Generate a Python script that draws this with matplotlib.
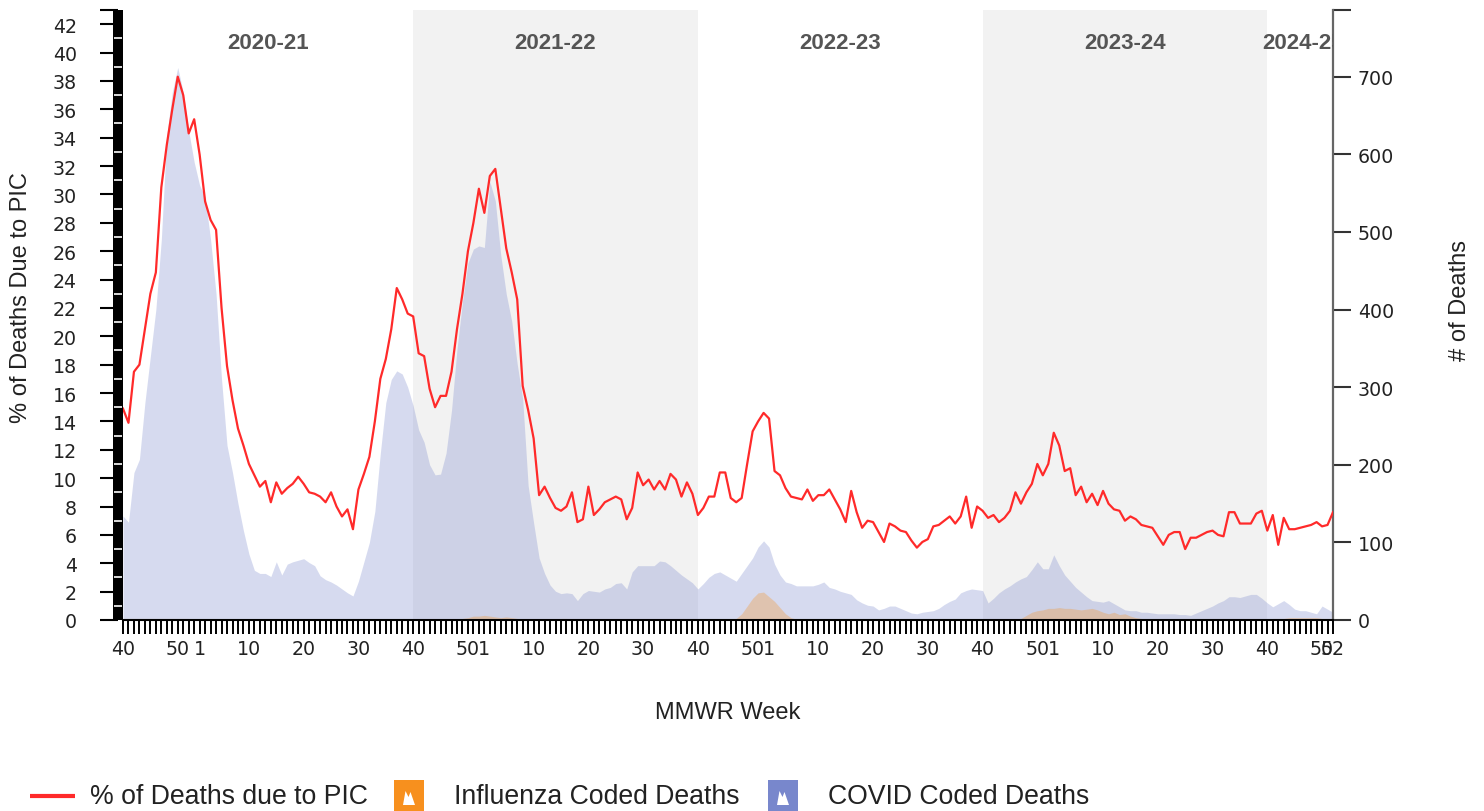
import matplotlib
matplotlib.use("Agg")
import matplotlib.pyplot as plt
from matplotlib.patches import Rectangle, Polygon
from matplotlib.transforms import blended_transform_factory
import numpy as np

# MMWR weeks per season (2020 had 53 weeks)
SEASONS = ["2020-21", "2021-22", "2022-23", "2023-24", "2024-25"]
WEEKS_2020 = list(range(40, 54)) + list(range(1, 40))
WEEKS_2021 = list(range(40, 53)) + list(range(1, 40))
WEEKS_2022 = list(range(40, 53)) + list(range(1, 40))
WEEKS_2023 = list(range(40, 53)) + list(range(1, 40))
WEEKS_2024 = list(range(40, 53))

# % of deaths due to PIC (left axis)
PIC_2020 = [14.9, 13.9, 17.5, 18.0, 20.5, 23.0, 24.5, 30.5, 33.5, 36.0, 38.3, 37.0, 34.3, 35.3,
            32.8, 29.5, 28.2, 27.5, 22.0, 17.9, 15.5, 13.5, 12.3, 11.0, 10.2, 9.4, 9.8, 8.3, 9.7,
            8.9, 9.3, 9.6, 10.1, 9.6, 9.0, 8.9, 8.7, 8.3, 9.0, 8.0, 7.3, 7.8, 6.4, 9.2, 10.3,
            11.5, 14.0, 17.0, 18.4, 20.5, 23.4, 22.6, 21.6]
PIC_2021 = [21.4, 18.8, 18.6, 16.3, 15.0, 15.8, 15.8, 17.5, 20.5, 23.0, 26.0, 28.0, 30.4, 28.7,
            31.3, 31.8, 29.0, 26.2, 24.5, 22.6, 16.5, 14.8, 12.8, 8.8, 9.4, 8.6, 7.9, 7.7, 8.0,
            9.0, 6.9, 7.1, 9.4, 7.4, 7.8, 8.3, 8.5, 8.7, 8.5, 7.1, 7.9, 10.4, 9.5, 9.9, 9.2, 9.8,
            9.2, 10.3, 9.9, 8.7, 9.7, 8.9]
PIC_2022 = [7.4, 7.9, 8.7, 8.7, 10.4, 10.4, 8.6, 8.3, 8.6, 11.0, 13.3, 14.0, 14.6, 14.2, 10.5,
            10.2, 9.3, 8.7, 8.6, 8.5, 9.2, 8.4, 8.8, 8.8, 9.2, 8.5, 7.8, 6.9, 9.1, 7.6, 6.5, 7.0,
            6.9, 6.2, 5.5, 6.8, 6.6, 6.3, 6.2, 5.6, 5.1, 5.5, 5.7, 6.6, 6.7, 7.0, 7.3, 6.8, 7.3,
            8.7, 6.5, 8.0]
PIC_2023 = [7.7, 7.2, 7.4, 6.9, 7.2, 7.7, 9.0, 8.2, 9.0, 9.6, 11.0, 10.2, 11.0, 13.2, 12.3,
            10.5, 10.7, 8.8, 9.4, 8.3, 8.9, 8.1, 9.1, 8.2, 7.8, 7.7, 7.0, 7.3, 7.1, 6.7, 6.6, 6.5,
            5.9, 5.3, 6.0, 6.2, 6.2, 5.0, 5.8, 5.8, 6.0, 6.2, 6.3, 6.0, 5.9, 7.6, 7.6, 6.8, 6.8,
            6.8, 7.5, 7.7]
PIC_2024 = [6.3, 7.4, 5.3, 7.2, 6.4, 6.4, 6.5, 6.6, 6.7, 6.9, 6.6, 6.7, 7.6]

# COVID coded deaths (right axis)
COVID_2020 = [134, 126, 190, 207, 280, 340, 400, 490, 625, 680, 712, 680, 630, 590, 560, 545,
              490, 420, 310, 225, 190, 150, 115, 85, 64, 60, 60, 56, 75, 58, 72, 75, 77, 79, 74,
              70, 57, 52, 49, 45, 40, 35, 31, 50, 75, 100, 140, 215, 280, 310, 321, 317, 300]
COVID_2021 = [276, 245, 229, 200, 187, 188, 215, 270, 349, 410, 460, 478, 482, 480, 565, 540,
              470, 420, 385, 330, 285, 173, 125, 80, 60, 45, 37, 34, 35, 34, 25, 34, 38, 37, 36,
              40, 42, 47, 48, 40, 62, 70, 70, 70, 70, 76, 75, 70, 64, 58, 53, 48]
COVID_2022 = [40, 47, 55, 60, 62, 58, 54, 50, 60, 70, 80, 94, 102, 94, 72, 58, 49, 47, 44, 44,
              44, 44, 46, 49, 42, 40, 37, 35, 33, 26, 22, 19, 18, 13, 15, 18, 18, 15, 12, 9, 8,
              10, 11, 12, 15, 20, 24, 27, 35, 38, 40, 39]
COVID_2023 = [38, 22, 28, 35, 40, 44, 49, 53, 56, 65, 75, 66, 66, 84, 70, 58, 50, 42, 36, 30,
              25, 24, 23, 25, 21, 17, 13, 12, 12, 10, 10, 9, 8, 8, 8, 8, 7, 7, 6, 9, 12, 15, 18,
              22, 25, 30, 30, 29, 31, 33, 33, 28]
COVID_2024 = [22, 17, 21, 25, 20, 14, 12, 12, 10, 8, 18, 14, 10]

# Influenza coded deaths (right axis)
FLU_2020 = [2, 2, 2, 2, 2, 2, 2, 2, 2, 2, 2, 2, 2, 1, 1, 1, 1, 1, 1, 1, 1, 1, 1, 1, 1, 1, 1,
            1, 1, 1, 1, 1, 1, 1, 1, 1, 1, 1, 1, 1, 1, 1, 1, 1, 1, 1, 1, 1, 1, 1, 1, 1, 1]
FLU_2021 = [1, 1, 1, 1, 1, 1, 1, 1, 1, 2, 3, 5, 5, 6, 5, 4, 3, 4, 3, 2, 1, 1, 1, 1, 1, 1, 1,
            2, 2, 1, 1, 1, 1, 1, 1, 1, 1, 1, 1, 1, 1, 1, 1, 1, 1, 1, 1, 1, 1, 1, 1, 1]
FLU_2022 = [1, 1, 1, 1, 1, 1, 1, 2, 8, 18, 28, 35, 36, 30, 24, 16, 8, 3, 1, 1, 1, 1, 1, 1, 1,
            1, 1, 1, 1, 1, 1, 1, 1, 1, 1, 1, 1, 1, 1, 1, 1, 1, 1, 1, 1, 1, 1, 1, 1, 1, 1, 1]
FLU_2023 = [1, 1, 1, 1, 1, 1, 1, 2, 6, 10, 12, 13, 15, 15, 16, 15, 15, 14, 13, 14, 15, 13, 10,
            8, 10, 7, 8, 5, 3, 2, 1, 1, 1, 1, 1, 1, 1, 1, 1, 1, 1, 1, 1, 1, 1, 1, 1, 1, 1, 1,
            1, 1]
FLU_2024 = [1, 2, 2, 2, 3, 3, 3, 3, 3, 3, 2, 2, 2]

LABELLED_WEEKS = [40, 50, 1, 10, 20, 30]

RED = "#ff2a2a"
FLU_COLOR = "#f7901e"
COVID_COLOR = "#7887cc"
BAND_COLOR = "#f2f2f2"
TICK_FONT = "DejaVu Sans"
TEXT_FONT = "Liberation Sans"
TICK_SIZE = 13.7


def main():
    season_weeks = [WEEKS_2020, WEEKS_2021, WEEKS_2022, WEEKS_2023, WEEKS_2024]
    weeks = sum(season_weeks, [])
    pic = np.array(PIC_2020 + PIC_2021 + PIC_2022 + PIC_2023 + PIC_2024)
    covid = np.array(COVID_2020 + COVID_2021 + COVID_2022 + COVID_2023 + COVID_2024)
    flu = np.array(FLU_2020 + FLU_2021 + FLU_2022 + FLU_2023 + FLU_2024)
    x = np.arange(len(weeks))

    starts = np.cumsum([0] + [len(w) for w in season_weeks])

    fig = plt.figure(figsize=(14.84, 8.12), dpi=100)
    ax = fig.add_axes([123 / 1484, 1 - 621 / 812, 1210 / 1484, 610 / 812])
    ax2 = ax.twinx()
    ax.set_zorder(2)
    ax2.set_zorder(1)
    ax.patch.set_visible(False)

    # season bands and death counts on the right-hand axis
    for k in (1, 3):
        ax2.axvspan(starts[k], starts[k + 1], color=BAND_COLOR, lw=0, zorder=0)
    ax2.fill_between(x, 0, covid, color=COVID_COLOR, alpha=0.3, lw=0, zorder=1)
    ax2.fill_between(x, 0, flu, color=FLU_COLOR, alpha=0.3, lw=0, zorder=1)

    ax.plot(x, pic, color=RED, lw=1.6, zorder=3)

    ax.set_xlim(0, len(weeks) - 1)
    ax.set_ylim(0, 43)
    ax2.set_ylim(0, 786)

    # season names along the top
    trans = blended_transform_factory(ax.transData, ax.transAxes)
    for k, name in enumerate(SEASONS):
        ax.text((starts[k] + starts[k + 1]) / 2, 0.9475, name, transform=trans,
                ha="center", va="center", fontsize=16, fontweight="bold",
                color="#555555", family=TEXT_FONT, clip_on=True)

    # tick styling first, labels afterwards so the sizes stick
    ax.tick_params(axis="x", length=10, width=1.4, color="black", pad=4,
                   labelsize=TICK_SIZE, labelcolor="#222222")
    ax.tick_params(axis="y", which="major", length=13, width=1.5, color="black", pad=16.5,
                   labelsize=TICK_SIZE, labelcolor="#222222")
    ax.tick_params(axis="y", which="minor", length=6, width=1.2, color="white",
                   direction="inout")
    ax2.tick_params(axis="y", length=13, width=1.5, color="#333333", pad=5,
                    labelsize=TICK_SIZE, labelcolor="#222222")

    # x axis: a tick for every week, labels for some
    labels = []
    for i, w in enumerate(weeks):
        labels.append(str(w) if (w in LABELLED_WEEKS or i == len(weeks) - 1) else "")
    ax.set_xticks(x)
    ax.set_xticklabels(labels, fontsize=TICK_SIZE, family=TICK_FONT)

    # left axis
    ax.set_yticks(list(range(0, 43, 2)) + [43])
    ax.set_yticklabels([str(v) for v in range(0, 43, 2)] + [""],
                       fontsize=TICK_SIZE, family=TICK_FONT)
    ax.set_yticks(range(1, 43, 2), minor=True)
    ax.spines["left"].set_position(("outward", 3.6))
    ax.spines["left"].set_linewidth(7.2)
    ax.spines["left"].set_capstyle("butt")
    ax.spines["left"].set_zorder(1)
    ax.spines["bottom"].set_linewidth(1.5)
    ax.spines["top"].set_visible(False)
    ax.spines["right"].set_visible(False)

    # right axis
    ax2.set_yticks(list(range(0, 701, 100)) + [786])
    ax2.set_yticklabels([str(v) for v in range(0, 701, 100)] + [""],
                        fontsize=TICK_SIZE, family=TICK_FONT)
    for side in ("left", "top", "bottom"):
        ax2.spines[side].set_visible(False)
    ax2.spines["right"].set_color("#666666")
    ax2.spines["right"].set_linewidth(1.6)

    ax.set_xlabel("MMWR Week", fontsize=17, family=TEXT_FONT, color="#222222")
    ax.xaxis.set_label_coords(0.5, -0.133)
    ax.set_ylabel("% of Deaths Due to PIC", fontsize=17, family=TEXT_FONT, color="#222222")
    ax.yaxis.set_label_coords(-0.075, 0.53)
    ax2.set_ylabel("# of Deaths", fontsize=17, family=TEXT_FONT, color="#222222")
    ax2.yaxis.set_label_coords(1.096, 0.526)

    # legend row along the bottom, in pixel coordinates of the picture
    lax = fig.add_axes([0, 0, 1, 52 / 812])
    lax.set_xlim(0, 1484)
    lax.set_ylim(812, 760)
    lax.axis("off")
    lax.plot([30, 75], [797, 797], color=RED, lw=3, solid_capstyle="butt")
    lax.text(90, 797, "% of Deaths due to PIC", va="center", ha="left",
             fontsize=19.2, family=TEXT_FONT, color="#222222")
    for x0, color, name in ((394, FLU_COLOR, "Influenza Coded Deaths"),
                            (768, COVID_COLOR, "COVID Coded Deaths")):
        lax.add_patch(Rectangle((x0, 781), 30, 31, color=color, lw=0))
        mountain = [(x0 + 9, 806), (x0 + 11.5, 792), (x0 + 14.5, 798), (x0 + 16.5, 793),
                    (x0 + 21, 806)]
        lax.add_patch(Polygon(mountain, closed=True, color="white", lw=0))
        lax.text(x0 + 60, 797, name, va="center", ha="left",
                 fontsize=19.2, family=TEXT_FONT, color="#222222")

    fig.savefig("out.png", dpi=100)
    plt.close(fig)


if __name__ == "__main__":
    main()
